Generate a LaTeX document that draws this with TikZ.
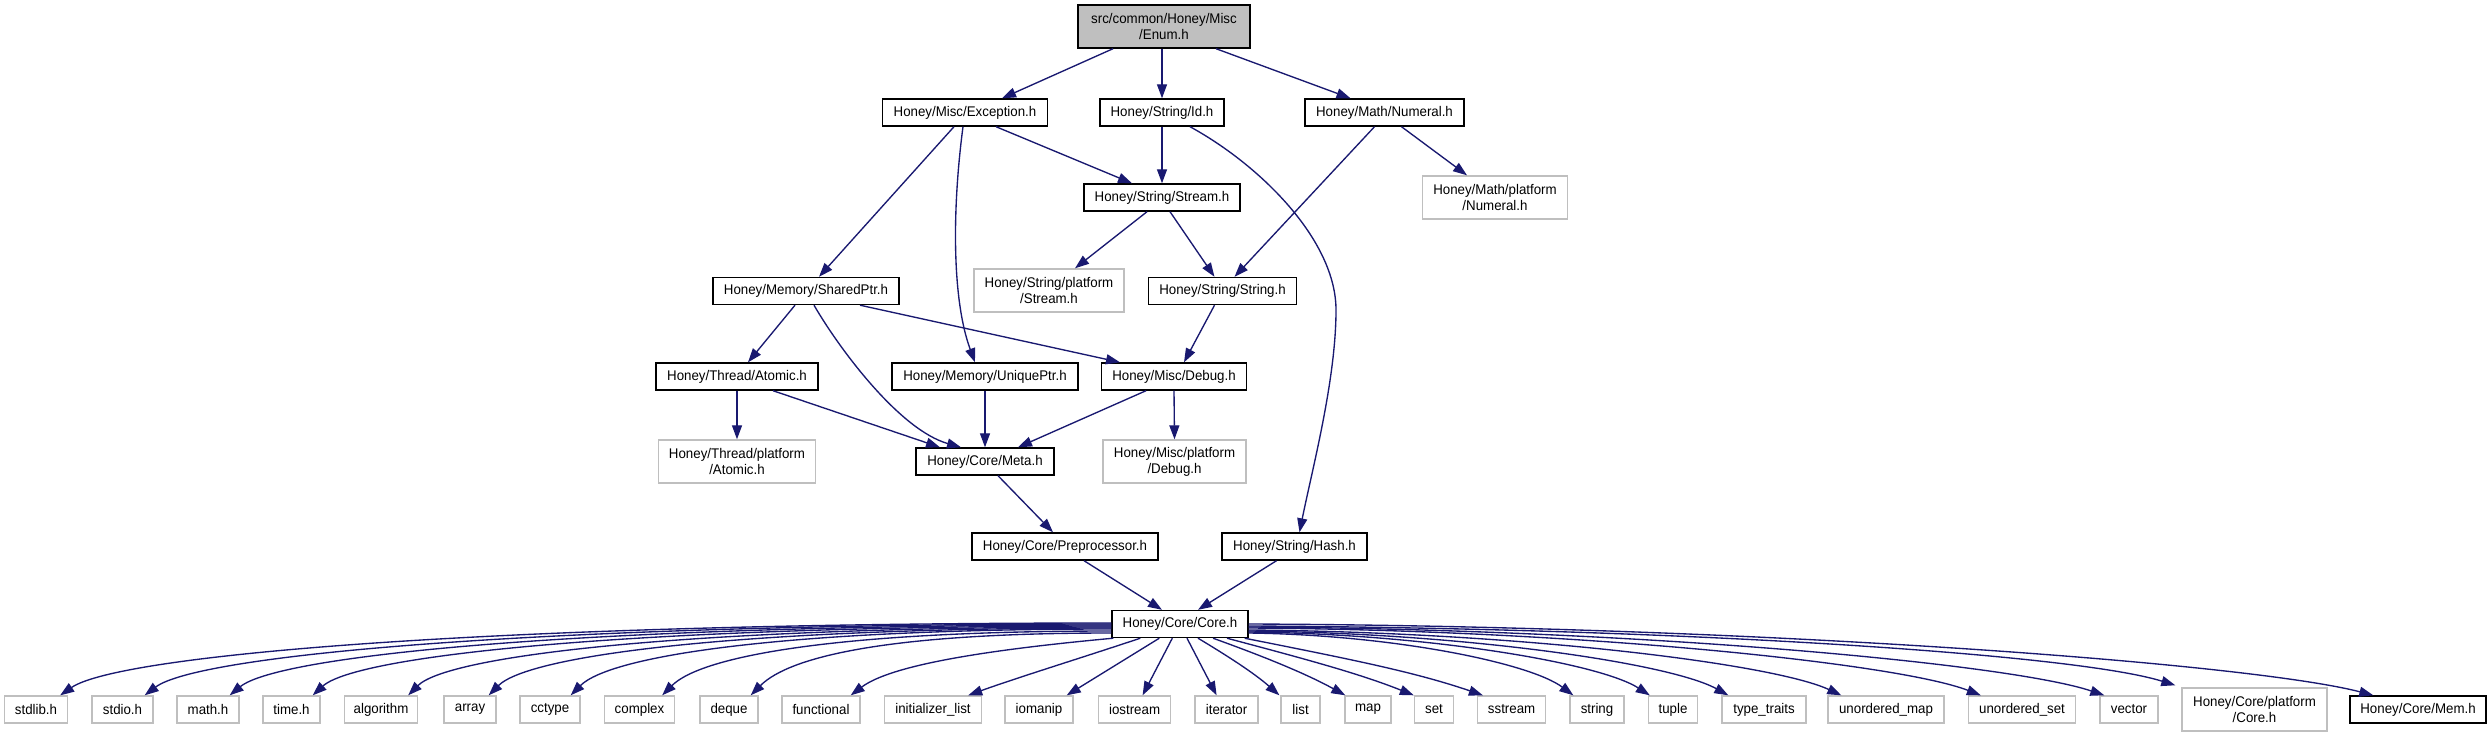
\documentclass[tikz,border=0pt]{standalone}
\usepackage{fontspec}
\setmainfont{Liberation Sans}[FakeStretch=0.95]
\usetikzlibrary{arrows.meta}
\definecolor{edgeblue}{HTML}{191970}
\definecolor{lgray}{HTML}{BFBFBF}
\begin{document}
\begin{tikzpicture}[x=1pt,y=-1pt,
  box/.style={draw=black, line width=1.4pt, fill=white, inner sep=0pt, minimum height=27pt,
    font=\fontsize{14}{16}\selectfont, align=center, text=black},
  ext/.style={box, draw=lgray},
  rootbox/.style={box, fill=lgray},
  two/.style={minimum height=43pt},
  dep/.style={draw=edgeblue, line width=1.35pt, -{Triangle[length=14pt,width=10pt]}}]
\useasboundingbox (0,0) rectangle (2492,739);
% upper nodes
\node[rootbox, two, minimum width=172pt] (enum) at (1164,26.5) {src/common/Honey/Misc\\/Enum.h};
\node[box, minimum width=165pt] (exception) at (965,112.5) {Honey/Misc/Exception.h};
\node[box, minimum width=124pt] (id) at (1162,112.5) {Honey/String/Id.h};
\node[box, minimum width=159pt] (numeral) at (1384.5,112.5) {Honey/Math/Numeral.h};
\node[box, minimum width=156pt] (stream) at (1162,197.5) {Honey/String/Stream.h};
\node[ext, two, minimum width=145pt] (mathplat) at (1495,197.5) {Honey/Math/platform\\/Numeral.h};
\node[box, minimum width=186pt] (sharedptr) at (806,291) {Honey/Memory/SharedPtr.h};
\node[ext, two, minimum width=150pt] (strplat) at (1049,290.5) {Honey/String/platform\\/Stream.h};
\node[box, minimum width=148pt] (string) at (1222.5,291) {Honey/String/String.h};
\node[box, minimum width=162pt] (atomic) at (737,376.5) {Honey/Thread/Atomic.h};
\node[box, minimum width=186pt] (uniqueptr) at (985,376.5) {Honey/Memory/UniquePtr.h};
\node[box, minimum width=145pt] (debug) at (1174,376.5) {Honey/Misc/Debug.h};
\node[ext, two, minimum width=157pt] (threadplat) at (737,461.5) {Honey/Thread/platform\\/Atomic.h};
\node[box, minimum width=138pt] (meta) at (985,461.5) {Honey/Core/Meta.h};
\node[ext, two, minimum width=143pt] (miscplat) at (1174.5,461.5) {Honey/Misc/platform\\/Debug.h};
\node[box, minimum width=186pt] (preproc) at (1065,546.5) {Honey/Core/Preprocessor.h};
\node[box, minimum width=145pt] (hash) at (1294.5,546.5) {Honey/String/Hash.h};
\node[box, minimum width=136pt] (core) at (1180,624) {Honey/Core/Core.h};
% bottom row
\node[ext, minimum width=63pt] (nstdlib) at (36,709.5) {stdlib.h};
\node[ext, minimum width=61pt] (nstdio) at (122.5,709.5) {stdio.h};
\node[ext, minimum width=62pt] (nmath) at (208,709.5) {math.h};
\node[ext, minimum width=57pt] (ntime) at (291.5,709.5) {time.h};
\node[ext, minimum width=73pt] (nalgorithm) at (381,709.5) {algorithm};
\node[ext, minimum width=52pt] (narray) at (470,709.5) {array};
\node[ext, minimum width=60pt] (ncctype) at (550,709.5) {cctype};
\node[ext, minimum width=70pt] (ncomplex) at (639.5,709.5) {complex};
\node[ext, minimum width=58pt] (ndeque) at (729,709.5) {deque};
\node[ext, minimum width=78pt] (nfunctional) at (821,709.5) {functional};
\node[ext, minimum width=97pt] (ninitlist) at (933,709.5) {initializer\_list};
\node[ext, minimum width=68pt] (niomanip) at (1039,709.5) {iomanip};
\node[ext, minimum width=72pt] (niostream) at (1134.6,709.5) {iostream};
\node[ext, minimum width=63pt] (niterator) at (1226.6,709.5) {iterator};
\node[ext, minimum width=39pt] (nlist) at (1300.6,709.5) {list};
\node[ext, minimum width=46pt] (nmap) at (1368,709.5) {map};
\node[ext, minimum width=39pt] (nset) at (1434,709.5) {set};
\node[ext, minimum width=68pt] (nsstream) at (1511.6,709.5) {sstream};
\node[ext, minimum width=54pt] (nstring) at (1597,709.5) {string};
\node[ext, minimum width=49pt] (ntuple) at (1673,709.5) {tuple};
\node[ext, minimum width=84pt] (ntypetraits) at (1764,709.5) {type\_traits};
\node[ext, minimum width=116pt] (numap) at (1886,709.5) {unordered\_map};
\node[ext, minimum width=107pt] (nuset) at (2022,709.5) {unordered\_set};
\node[ext, minimum width=58pt] (nvector) at (2129,709.5) {vector};
\node[ext, two, minimum width=145pt] (coreplat) at (2254.5,709.5) {Honey/Core/platform\\/Core.h};
\node[box, minimum width=136pt] (mem) at (2418,709.5) {Honey/Core/Mem.h};
\coordinate (idhashmid) at (1336,310);
% upper edges
\draw[dep] ([xshift=-51pt]enum.south) -- ([xshift=37pt]exception.north);
\draw[dep] ([xshift=-2pt]enum.south) -- (id.north);
\draw[dep] ([xshift=52pt]enum.south) -- ([xshift=-34pt]numeral.north);
\draw[dep] ([xshift=31pt]exception.south) -- ([xshift=-30pt]stream.north);
\draw[dep] ([xshift=-11pt]exception.south) -- ([xshift=13pt]sharedptr.north);
\draw[dep] ([xshift=-2pt]exception.south) .. controls (952,210) and (952,300) .. ([xshift=-10pt]uniqueptr.north);
\draw[dep] (id.south) -- (stream.north);
\draw[dep] ([xshift=28pt]id.south) .. controls (1260,165) and (1336,240) .. (idhashmid)
   .. controls (1336,380) and (1312,470) .. ([xshift=5pt]hash.north);
\draw[dep] ([xshift=-10pt]numeral.south) -- ([xshift=12pt]string.north);
\draw[dep] ([xshift=17pt]numeral.south) -- ([xshift=-28pt]mathplat.north);
\draw[dep] ([xshift=-15pt]stream.south) -- ([xshift=26pt]strplat.north);
\draw[dep] ([xshift=8pt]stream.south) -- ([xshift=-8pt]string.north);
\draw[dep] ([xshift=-11pt]sharedptr.south) -- ([xshift=11pt]atomic.north);
\draw[dep] ([xshift=8pt]sharedptr.south) .. controls (840,350) and (900,430) .. ([xshift=-24pt]meta.north);
\draw[dep] ([xshift=54pt]sharedptr.south) -- ([xshift=-54pt]debug.north);
\draw[dep] ([xshift=-8pt]string.south) -- ([xshift=10pt]debug.north);
\draw[dep] (atomic.south) -- (threadplat.north);
\draw[dep] ([xshift=36pt]atomic.south) -- ([xshift=-45pt]meta.north);
\draw[dep] (uniqueptr.south) -- (meta.north);
\draw[dep] ([xshift=-28pt]debug.south) -- ([xshift=33pt]meta.north);
\draw[dep] (debug.south) -- (miscplat.north);
\draw[dep] ([xshift=13pt]meta.south) -- ([xshift=-12pt]preproc.north);
\draw[dep] ([xshift=19pt]preproc.south) -- ([xshift=-18pt]core.north);
\draw[dep] ([xshift=-18pt]hash.south) -- ([xshift=18pt]core.north);
% left fan
\draw[dep] ([yshift=1pt]core.west) .. controls +(-631,0) and +(58,-40) .. ([xshift=-8pt]nstdlib.north east);
\draw[dep] ([yshift=0pt]core.west) .. controls +(-581,0) and +(53,-40) .. ([xshift=-9pt]nstdio.north east);
\draw[dep] ([yshift=-1pt]core.west) .. controls +(-530,0) and +(49,-40) .. ([xshift=-10pt]nmath.north east);
\draw[dep] ([yshift=-2pt]core.west) .. controls +(-480,0) and +(44,-40) .. ([xshift=-8pt]ntime.north east);
\draw[dep] ([yshift=-3pt]core.west) .. controls +(-422,0) and +(40,-40) .. ([xshift=-10pt]nalgorithm.north east);
\draw[dep] ([yshift=-4pt]core.west) .. controls +(-374,0) and +(40,-40) .. ([xshift=-8pt]narray.north east);
\draw[dep] ([yshift=-5pt]core.west) .. controls +(-325,0) and +(40,-40) .. ([xshift=-10pt]ncctype.north east);
\draw[dep] ([yshift=-7pt]core.west) .. controls +(-270,0) and +(40,-40) .. ([xshift=-13pt]ncomplex.north east);
\draw[dep] ([yshift=-9pt]core.west) .. controls +(-217,0) and +(40,-40) .. ([xshift=-8pt]ndeque.north east);
\draw[dep] ([xshift=2pt]core.south west) .. controls +(-130,12) and +(40,-30) .. ([xshift=-10pt]nfunctional.north east);
% middle
\draw[dep] ([xshift=29pt]core.south west) .. controls +(-60,20) and +(50,-18) .. ([xshift=-14pt]ninitlist.north east);
\draw[dep] ([xshift=48pt]core.south west) -- ([xshift=-7pt]niomanip.north east);
\draw[dep] ([xshift=61pt]core.south west) -- ([xshift=8pt]niostream.north);
\draw[dep] ([xshift=7pt]core.south) -- ([xshift=-10pt]niterator.north);
\draw[dep] ([xshift=18pt]core.south) .. controls +(30,18) and +(-25,-22) .. ([xshift=-1pt]nlist.north west);
\draw[dep] ([xshift=33pt]core.south) .. controls +(50,18) and +(-40,-22) .. ([xshift=1pt]nmap.north west);
\draw[dep] ([xshift=47pt]core.south) .. controls +(75,20) and +(-55,-22) .. (nset.north west);
\draw[dep] ([xshift=-4pt]core.south east) .. controls +(100,20) and +(-70,-24) .. ([xshift=6pt]nsstream.north west);
% right fan
\draw[dep] ([yshift=-9pt]core.east) .. controls +(147,2) and +(-43,-32) .. ([xshift=4pt]nstring.north west);
\draw[dep] ([yshift=-8pt]core.east) .. controls +(181,2) and +(-50,-32) .. ([xshift=2pt]ntuple.north west);
\draw[dep] ([yshift=-7pt]core.east) .. controls +(216,2) and +(-58,-32) .. ([xshift=7pt]ntypetraits.north west);
\draw[dep] ([yshift=-6pt]core.east) .. controls +(267,2) and +(-69,-32) .. ([xshift=14pt]numap.north west);
\draw[dep] ([yshift=-4pt]core.east) .. controls +(330,2) and +(-83,-32) .. ([xshift=13pt]nuset.north west);
\draw[dep] ([yshift=-3pt]core.east) .. controls +(386,2) and +(-96,-32) .. ([xshift=5pt]nvector.north west);
\draw[dep] ([yshift=-2pt]core.east) .. controls +(418,2) and +(-103,-32) .. ([xshift=-6pt,yshift=2pt]coreplat.north west);
\draw[dep] ([yshift=0pt]core.east) .. controls +(507,2) and +(-123,-32) .. ([xshift=24pt]mem.north west);
\end{tikzpicture}
\end{document}
